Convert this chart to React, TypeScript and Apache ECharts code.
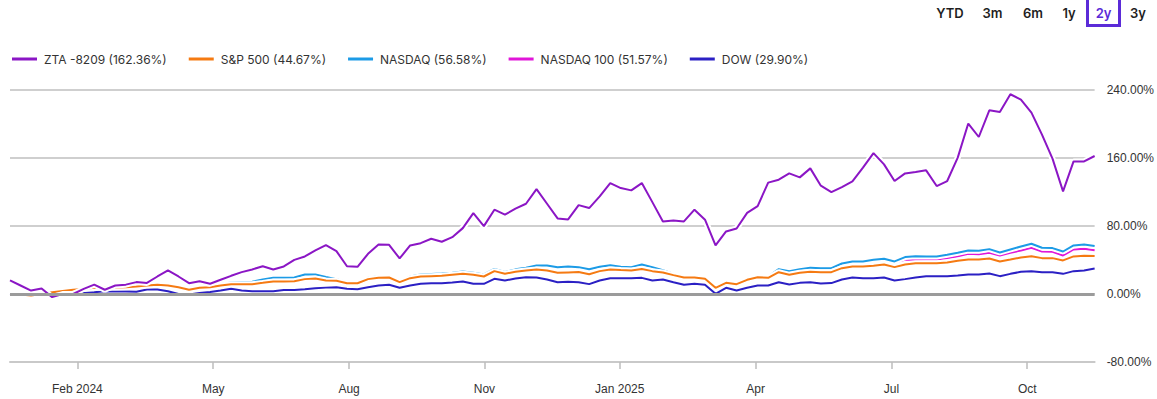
import React, { useEffect, useRef } from "react";
import * as echarts from "echarts";

// Weekly points, index 0..103 (≈ Dec 2023 .. Dec 2025), cumulative % change
const ztaValues = [
  16, 10, 4, 6.5, -3.7, 0, 0, 6, 11, 5,
  10, 11, 14, 13, 20.6, 27.7, 20.6, 12.7, 15, 12,
  16.7, 21.4, 25.7, 28.9, 32.7, 28.9, 32.4, 40.2, 44.2, 51.2,
  57.5, 50.4, 32.7, 32, 47.3, 58.3, 57.9, 41.8, 57.1, 59.8,
  65, 61.5, 66.9, 77.5, 95.2, 79.9, 99.2, 93.3, 100.4, 106.2,
  123.4, 106.2, 88.9, 87.7, 104.6, 101.1, 114.8, 130.5, 124.6, 121.9,
  130.5, 108.1, 85.4, 86.6, 85.4, 99.2, 87.4, 57.1, 73.6, 77,
  95.4, 103.4, 131, 134.5, 141.9, 137.2, 147.8, 127.4, 119.9, 125.8,
  132.5, 148.6, 165.8, 152.5, 132.9, 141.9, 143.5, 145.5, 127, 132.9,
  160.4, 200.5, 184.7, 216.1, 214.1, 235, 228.7, 213.4, 187.5, 159.2,
  120.7, 156, 156, 162.36,
];

const spValues = [
  0, -0.5, -1.8, 0, 2, 3.5, 5, 6, 7.3, 7.3,
  7.5, 8, 8.8, 10, 10.8, 10, 8, 5, 7.3, 8,
  10, 11.6, 11.6, 11.6, 13.1, 14.7, 14.7, 15.1, 17.5, 18.2,
  15.9, 15.5, 12.7, 12.7, 17.5, 19.2, 19.4, 13.9, 18.6, 20.6,
  21, 21.4, 22.6, 23.8, 22.6, 20.6, 26.9, 23.8, 26.1, 27.7,
  28.9, 27.7, 25, 25.4, 25.8, 23.3, 26.9, 28.9, 28.1, 27.7,
  29.3, 26.9, 25.4, 22.2, 19.4, 19.4, 17.9, 7.3, 13.1, 11.6,
  16.7, 19.8, 19, 25.7, 22.6, 25, 26.1, 25.7, 25.7, 30.4,
  32.4, 32.4, 33.2, 34.7, 31.6, 34.7, 36.3, 36.3, 36.3, 37.1,
  39.1, 40.6, 40.6, 41.8, 38.3, 40.6, 43, 44.5, 42.2, 42.2,
  39.5, 44.2, 45, 44.67,
];

const nasdaqValues = [
  0.5, 0, -1, 0.5, 2.5, 4, 5.5, 6.5, 8, 8,
  8.5, 9, 10, 11, 12, 11, 8.5, 5, 8, 9,
  11.5, 13.5, 14, 14.5, 17, 19, 19, 19.5, 23, 23,
  20, 17.5, 14, 14, 19, 21, 21, 15, 20.5, 23,
  23.5, 24, 25, 26.5, 25, 23, 29.5, 26, 29, 31,
  33.6, 33.6, 31.6, 32.4, 31.6, 29.2, 32, 33.9, 32, 31.6,
  34.7, 31.6, 28, 24, 20.5, 20.5, 19, 7, 14, 12.5,
  18, 21, 20.5, 29.2, 26.9, 29.2, 30.8, 30.4, 30.4, 35.9,
  38.3, 38.3, 40.2, 41.4, 38.3, 43.4, 44.5, 44.2, 44.2, 46.1,
  48.5, 51.2, 50.8, 52.8, 48.9, 52.4, 55.9, 59.1, 54.4, 54,
  50, 57.1, 58.3, 56.58,
];

const nasdaq100Values = [
  0.3, -0.2, -1.2, 0.3, 2.2, 3.7, 5.2, 6.2, 7.6, 7.6,
  8, 8.5, 9.5, 10.5, 11.5, 10.5, 8, 4.6, 7.6, 8.6,
  11, 13, 13.5, 14, 16.5, 18.5, 18.5, 19, 22.5, 22.5,
  19.5, 17, 13.5, 13.5, 18.5, 20.5, 20.5, 14.5, 20, 22.5,
  23, 23.5, 24.5, 26, 24.5, 22.5, 29, 25.5, 28.5, 30.5,
  33, 33, 31, 31.8, 31, 28.6, 31.4, 33.3, 31.4, 31,
  34, 31, 27.4, 23.5, 20, 20, 18.5, 6.6, 13.5, 12,
  17.5, 20.5, 20, 28.5, 26.2, 28.5, 30, 29.6, 29.6, 35,
  37.3, 37.3, 39, 40, 37, 40.2, 40.2, 40.6, 40.6, 42.2,
  44.5, 47.3, 46.9, 48.5, 45.3, 48.5, 51.2, 54.4, 50, 49.7,
  45.3, 52.4, 53.2, 51.57,
];

const dowValues = [
  0, -1, -1.5, -0.5, 0, 0.5, 1, 1.5, 2, 3.3,
  3, 3, 2.7, 5.3, 5.3, 3.3, 0, -0.5, 1.2, 2.4,
  4.1, 6.1, 4.1, 3.3, 3.3, 3.3, 4.7, 4.7, 5.7, 6.8,
  7.5, 8, 6.1, 5.7, 8, 10, 10.8, 7.3, 10, 12,
  12.7, 12.7, 13.5, 14.7, 12, 12, 17.9, 15.9, 18.2, 19.8,
  19.4, 17.1, 13.9, 14.3, 13.9, 11.6, 15.9, 18.6, 18.6, 18.6,
  19, 15.9, 17.1, 13.9, 10.8, 12, 10.8, 0.2, 7.3, 4.1,
  7.3, 10, 10, 13.9, 11.2, 13.1, 13.9, 12.4, 12.8, 17.1,
  19.4, 18.6, 18.6, 19.4, 15.9, 17.5, 19.4, 21, 21, 21,
  21.8, 23, 23, 24.1, 21, 23.7, 26.1, 26.9, 25.7, 25.7,
  23.7, 26.9, 27.7, 29.9,
];

// x-axis tick labels and their positions on the week index scale
const xTickWeeks = [6.4, 19.3, 32.2, 45.05, 57.9, 70.8, 83.7, 96.6];
const xTickLabels = ["Feb 2024", "May", "Aug", "Nov", "Jan 2025", "Apr", "Jul", "Oct"];

const yTicks = { min: -80, max: 240, interval: 80 };

const rangeButtons = ["YTD", "3m", "6m", "1y", "2y", "3y"];
const activeRange = "2y";

const seriesNames = ["ZTA -8209", "S&P 500", "NASDAQ", "NASDAQ 100", "DOW"];
const seriesValues = [ztaValues, spValues, nasdaqValues, nasdaq100Values, dowValues];
const seriesColors = ["#8b16c5", "#f57a12", "#1c9be6", "#e016d8", "#2b20c4"];
// bottom-to-top drawing order (indices into the arrays above)
const drawOrder = [3, 2, 4, 1, 0];

const AXIS_FONT = "'Liberation Sans', Arial, sans-serif";
const LEGEND_FONT = "Inter, 'Noto Sans', sans-serif";

export default function App() {
  const ref = useRef<HTMLDivElement>(null);

  useEffect(() => {
    document.body.style.margin = "0";
    if (!ref.current) return;
    const chart = echarts.init(ref.current, null, { renderer: "svg" });

    const legendNames = seriesNames.map((n, i) => {
      const v = seriesValues[i];
      return `${n} (${v[v.length - 1].toFixed(2)}%)`;
    });

    const series: any[] = [
      {
        name: "zero-line",
        type: "line",
        data: [],
        silent: true,
        z: 1,
        markLine: {
          silent: true,
          symbol: "none",
          label: { show: false },
          lineStyle: { color: "#9b9b9b", width: 3, type: "solid" },
          data: [{ yAxis: 0 }],
        },
      },
    ];
    drawOrder.forEach((idx) => {
      const data = seriesValues[idx].map((v, i) => [i, v]);
      series.push({
        name: `halo-${idx}`,
        type: "line",
        data,
        showSymbol: false,
        silent: true,
        z: 2,
        lineStyle: { color: "#ffffff", width: 6 },
        emphasis: { disabled: true },
      });
      series.push({
        name: legendNames[idx],
        type: "line",
        data,
        showSymbol: false,
        z: 2,
        color: seriesColors[idx],
        lineStyle: { color: seriesColors[idx], width: 2 },
        emphasis: { disabled: true },
      });
    });

    const btnX = [950, 992.5, 1033, 1069, 1103.5, 1138];
    const graphics: any[] = rangeButtons.map((b, i) => ({
      type: "text",
      x: btnX[i],
      y: 13,
      style: {
        text: b,
        fill: b === activeRange ? "#5b2bd8" : "#1f1f1f",
        font: `600 13px ${LEGEND_FONT}`,
        align: "center",
        verticalAlign: "middle",
      },
    }));
    graphics.push({
      type: "rect",
      shape: { x: 1087.5, y: -6, width: 32, height: 31.5 },
      style: { fill: "none", stroke: "#5b2bd8", lineWidth: 3 },
    });

    chart.setOption({
      animation: false,
      grid: { left: 10, right: 59, top: 90, height: 272, containLabel: false },
      legend: {
        data: legendNames,
        left: 12,
        top: 53,
        padding: 0,
        icon: "rect",
        itemWidth: 25,
        itemHeight: 3,
        itemGap: 22,
        textStyle: { fontFamily: LEGEND_FONT, fontSize: 12, color: "#333", padding: [0, 0, 0, 2] },
      },
      xAxis: {
        type: "value",
        min: 0,
        max: ztaValues.length - 1,
        splitLine: { show: false },
        axisLine: { show: true, onZero: false, lineStyle: { color: "#c9c9c9", width: 2 } },
        axisTick: {
          show: true,
          length: 7,
          lineStyle: { color: "#bdbdbd", width: 1.5 },
          customValues: xTickWeeks,
        },
        axisLabel: {
          show: true,
          customValues: xTickWeeks,
          margin: 21,
          fontFamily: AXIS_FONT,
          fontSize: 12,
          color: "#333",
          formatter: (v: number) => {
            const k = xTickWeeks.findIndex((t) => Math.abs(t - v) < 0.01);
            return k >= 0 ? xTickLabels[k] : "";
          },
        },
      },
      yAxis: {
        type: "value",
        position: "right",
        min: yTicks.min,
        max: yTicks.max,
        interval: yTicks.interval,
        axisLine: { show: false },
        axisTick: { show: false },
        splitLine: { show: true, lineStyle: { color: "#cfcfcf", width: 2 } },
        axisLabel: {
          margin: 12,
          fontFamily: AXIS_FONT,
          fontSize: 12,
          color: "#333",
          formatter: (v: number) => `${v.toFixed(2)}%`,
        },
      },
      graphic: graphics,
      series,
    });

    return () => chart.dispose();
  }, []);

  return <div ref={ref} style={{ width: 1157, height: 399 }} />;
}
